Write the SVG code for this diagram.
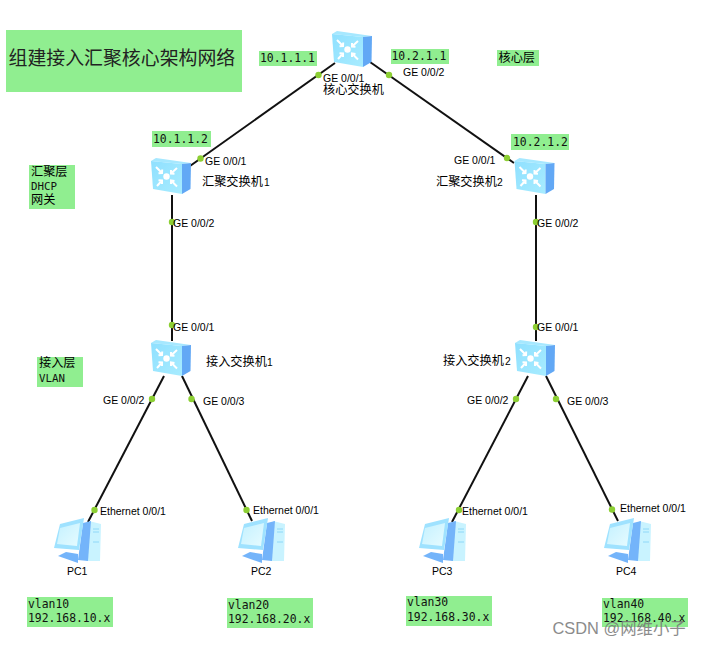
<svg xmlns="http://www.w3.org/2000/svg" width="704" height="646" viewBox="0 0 704 646">
<style>
text{font-family:"Liberation Sans","Noto Sans CJK SC",sans-serif;fill:#000}
.p{font-size:10.5px}
.c{font-size:12.2px}
.n{font-size:10.3px}
.m{font-family:"DejaVu Sans Mono","Noto Sans CJK SC",monospace;font-size:11.4px;fill:#111}
.g{fill:#90ee90}
.l{stroke:#111;stroke-width:2;fill:none}
.d{fill:#8ccf33}
.a{fill:none;stroke:#fff;stroke-width:2}
.w{font-size:16.4px;fill:#777;opacity:.85}
</style>
<defs>
<linearGradient id="f" x1="0" y1="0" x2="1" y2="1"><stop offset="0" stop-color="#8fe0ff"/><stop offset="1" stop-color="#a8ecff"/></linearGradient>
<linearGradient id="sc" x1="0" y1="0" x2="1" y2="1"><stop offset="0" stop-color="#c4f1ff"/><stop offset="1" stop-color="#e6fbff"/></linearGradient>
<g id="sw">
<polygon points="0,3 5,0 40,5 31,6" fill="#a6e8ff"/>
<polygon points="0,3 31,6 31,36 2,31" fill="url(#f)"/>
<polygon points="31,6 40,5 39.500,31 31,36" fill="#62a8f5"/>
<circle cx="15.500" cy="18.500" r="3.200" fill="#fff"/>
<path class="a" d="M5,9 L11,15 M7.500,15.200 L11,15 L11.200,11.500"/>
<path class="a" d="M26,10 L20,15.500 M23.500,15.800 L20,15.500 L20,12"/>
<path class="a" d="M6,28 L11,22.500 M7.500,22.300 L11,22.500 L11,26"/>
<path class="a" d="M26,28.500 L20,22.500 M20,26 L20,22.500 L23.500,23"/>
</g>
<g id="pc">
<polygon points="36,4 48,7 47,44 33,44" fill="#c9f3ff"/>
<path d="M40,12H46M40,15H46M40,25H46" stroke="#8fd8f8" stroke-width="1" fill="none"/>
<polygon points="30,6 38,4 35,44 25,43" fill="#74b4fa"/>
<polygon points="5,39 13,35 25,37 25,46" fill="#74b4fa"/>
<polygon points="7,7 31,1 26,33 1,31" fill="#9fe2ff"/>
<polygon points="7,11 27,6 24,29 4,27" fill="url(#sc)"/>
</g>
</defs>
<rect width="704" height="646" fill="#fff"/>
<g id="connectors">
<path class="l" d="M335,63 190,166"/>
<path class="l" d="M370,62 514,163"/>
<path class="l" d="M172,195V341"/>
<path class="l" d="M536,195V341"/>
<path class="l" d="M164,376 88,522"/>
<path class="l" d="M182,376 252,521"/>
<path class="l" d="M528,376 452,522"/>
<path class="l" d="M546,376 618,521"/>
<g class="d">
<circle cx="318.500" cy="75" r="3.200"/><circle cx="200.500" cy="158.500" r="3.200"/>
<circle cx="389" cy="75" r="3.200"/><circle cx="507" cy="158" r="3.200"/>
<circle cx="172" cy="222" r="3.200"/><circle cx="172" cy="325" r="3.200"/>
<circle cx="536" cy="222" r="3.200"/><circle cx="536" cy="327" r="3.200"/>
<circle cx="152" cy="399" r="3.200"/><circle cx="94.500" cy="510" r="3.200"/>
<circle cx="191.500" cy="399" r="3.200"/><circle cx="246.500" cy="510" r="3.200"/>
<circle cx="516" cy="399" r="3.200"/><circle cx="459" cy="510" r="3.200"/>
<circle cx="556" cy="399" r="3.200"/><circle cx="612" cy="509.500" r="3.200"/>
</g>
<g class="p">
<text x="323" y="82">GE 0/0/1</text>
<text x="403" y="76">GE 0/0/2</text>
<text x="205" y="165">GE 0/0/1</text>
<text x="454" y="164">GE 0/0/1</text>
<text x="173" y="227">GE 0/0/2</text>
<text x="537" y="227">GE 0/0/2</text>
<text x="173" y="331">GE 0/0/1</text>
<text x="537" y="331">GE 0/0/1</text>
<text x="103" y="404">GE 0/0/2</text>
<text x="203" y="405">GE 0/0/3</text>
<text x="467" y="404">GE 0/0/2</text>
<text x="567" y="405">GE 0/0/3</text>
<text x="100" y="515">Ethernet 0/0/1</text>
<text x="253" y="514">Ethernet 0/0/1</text>
<text x="462" y="515">Ethernet 0/0/1</text>
<text x="620" y="512">Ethernet 0/0/1</text>
</g>
</g>
<g id="core"><use href="#sw" x="332" y="31"/><text class="c" x="323" y="94">核心交换机</text></g>
<g id="agg1"><use href="#sw" x="151" y="158"/><text class="c" x="202" y="186">汇聚交换机<tspan class="n" dx="1">1</tspan></text></g>
<g id="agg2"><use href="#sw" x="514.500" y="158"/><text class="c" x="436" y="186">汇聚交换机<tspan class="n">2</tspan></text></g>
<g id="acc1"><use href="#sw" x="151" y="340"/><text class="c" x="206" y="366">接入交换机<tspan class="n">1</tspan></text></g>
<g id="acc2"><use href="#sw" x="515" y="340"/><text class="c" x="443" y="365">接入交换机<tspan class="n" dx="1">2</tspan></text></g>
<g id="pc1"><use href="#pc" x="53" y="517"/><text class="p" x="67" y="575">PC1</text></g>
<g id="pc2"><use href="#pc" x="237" y="517"/><text class="p" x="251" y="575">PC2</text></g>
<g id="pc3"><use href="#pc" x="418" y="517"/><text class="p" x="432" y="575">PC3</text></g>
<g id="pc4"><use href="#pc" x="603" y="517"/><text class="p" x="616" y="575">PC4</text></g>
<g id="title"><rect class="g" x="6" y="30" width="236" height="62"/><text x="8.500" y="65" style="font-size:18.9px;fill:#222">组建接入汇聚核心架构网络</text></g>
<g id="ip1"><rect class="g" x="259" y="51" width="58" height="15"/><text class="m" x="260" y="62">10.1.1.1</text></g>
<g id="ip2"><rect class="g" x="152" y="131" width="59" height="16"/><text class="m" x="153" y="143">10.1.1.2</text></g>
<g id="ip3"><rect class="g" x="391" y="49" width="58" height="15"/><text class="m" x="391.500" y="60">10.2.1.1</text></g>
<g id="ip4"><rect class="g" x="511" y="134" width="58" height="16"/><text class="m" x="513" y="146">10.2.1.2</text></g>
<g id="layer-core"><rect class="g" x="497" y="50" width="42" height="16"/><text class="c" x="498.500" y="62">核心层</text></g>
<g id="layer-agg"><rect class="g" x="29" y="165" width="46" height="44"/><text class="c" x="31" y="176">汇聚层</text><text class="m" x="31" y="190" style="font-size:10.8px">DHCP</text><text class="c" x="31" y="204">网关</text></g>
<g id="layer-acc"><rect class="g" x="37" y="357" width="46" height="30"/><text class="c" x="39" y="367">接入层</text><text class="m" x="39" y="382" style="font-size:10.8px">VLAN</text></g>
<g id="v10"><rect class="g" x="27" y="597" width="86" height="30"/><text class="m" x="28" y="607.500">vlan10</text><text class="m" x="28" y="622">192.168.10.x</text></g>
<g id="v20"><rect class="g" x="227" y="598" width="86" height="30"/><text class="m" x="228" y="609">vlan20</text><text class="m" x="228" y="623">192.168.20.x</text></g>
<g id="v30"><rect class="g" x="406" y="596" width="86" height="30"/><text class="m" x="407" y="606">vlan30</text><text class="m" x="407" y="621">192.168.30.x</text></g>
<g id="v40"><rect class="g" x="602" y="598" width="86" height="29"/><text class="m" x="603" y="608">vlan40</text><text class="m" x="603" y="622">192.168.40.x</text></g>
<text class="w" x="552.500" y="634">CSDN @网维小子</text>
</svg>
